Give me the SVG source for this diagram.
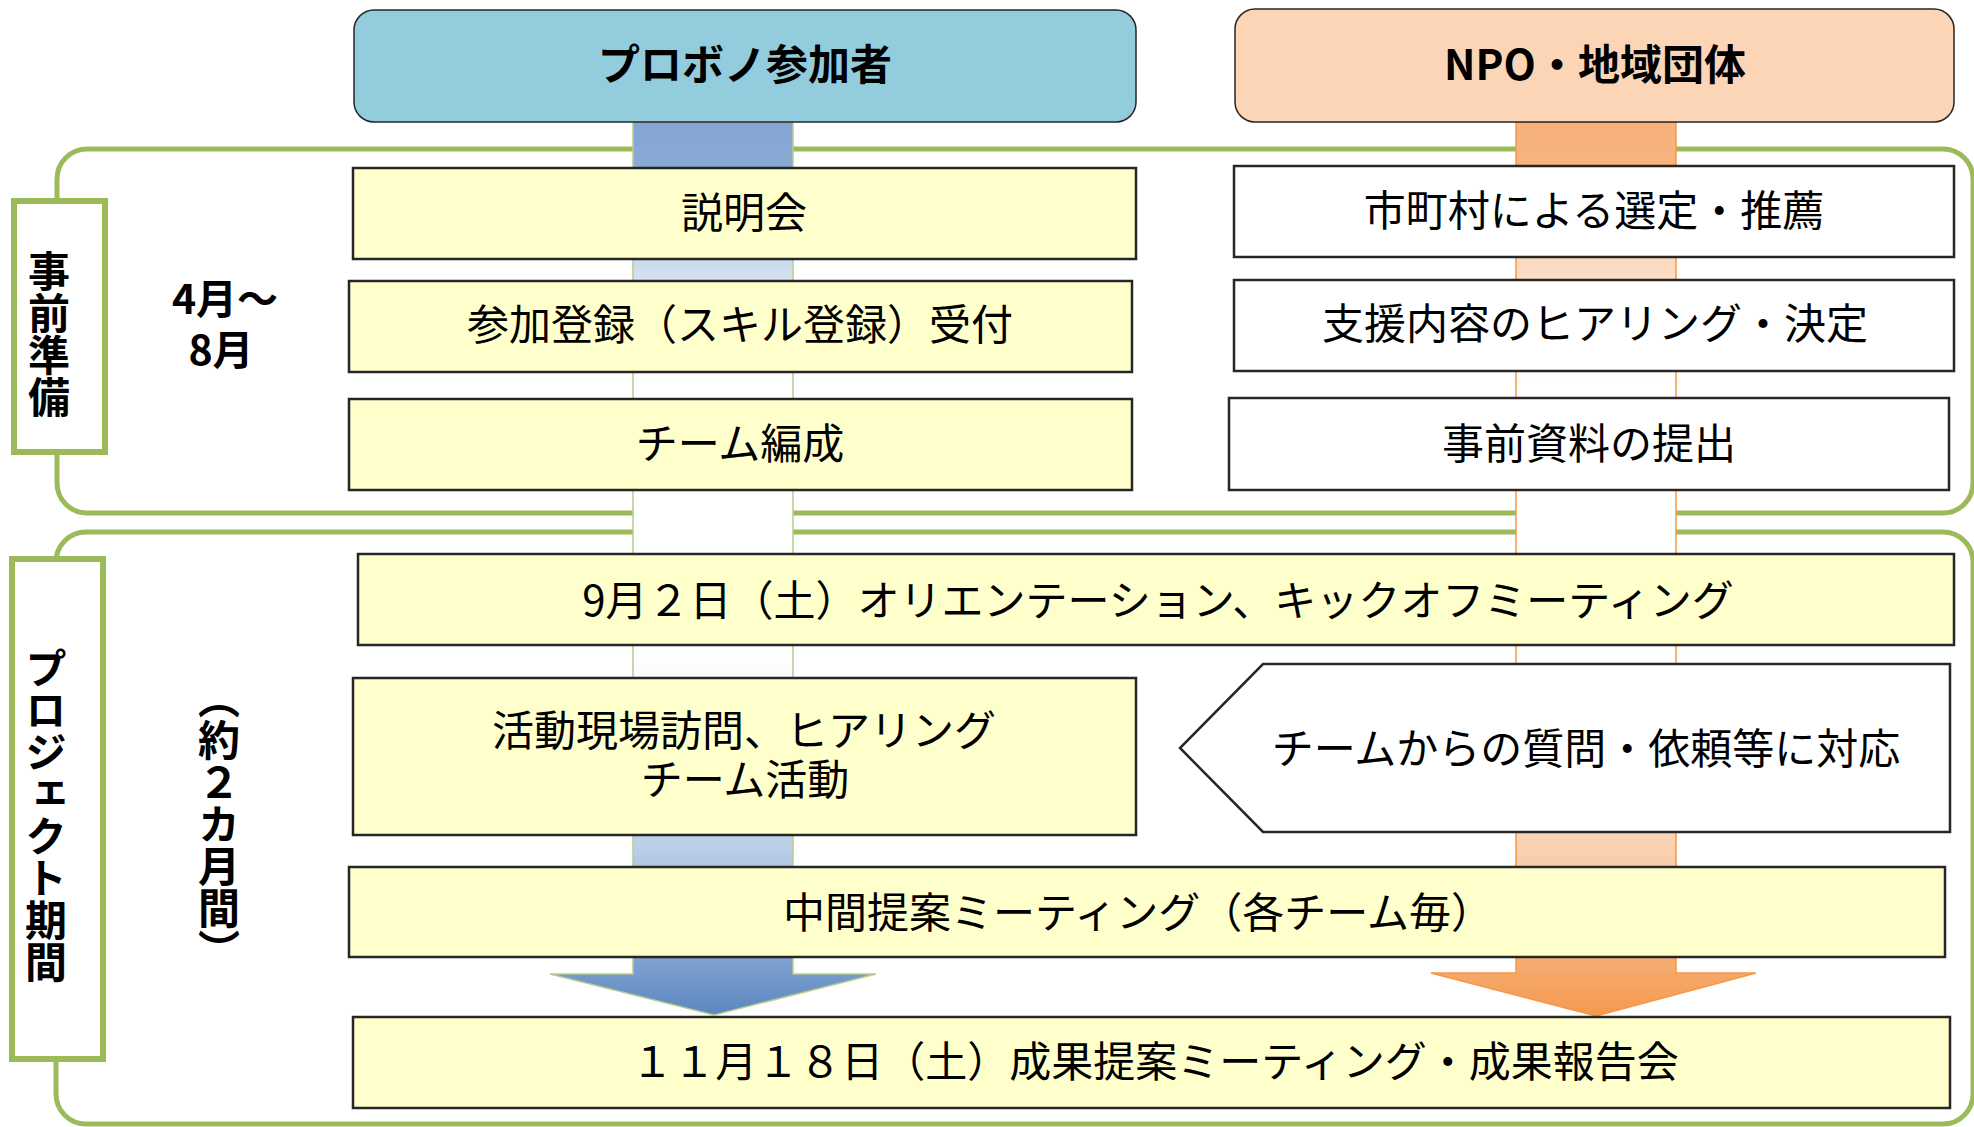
<svg xmlns="http://www.w3.org/2000/svg" width="1974" height="1127" viewBox="0 0 1974 1127">
<defs>
<linearGradient id="gBlue" gradientUnits="userSpaceOnUse" x1="0" y1="122" x2="0" y2="1016">
<stop offset="0" stop-color="#84A5D3"/>
<stop offset="0.05" stop-color="#8AA9D5"/>
<stop offset="0.17" stop-color="#D3E0EF"/>
<stop offset="0.29" stop-color="#FFFFFF"/>
<stop offset="0.60" stop-color="#FFFFFF"/>
<stop offset="0.81" stop-color="#BBCFE7"/>
<stop offset="0.94" stop-color="#7EA1CF"/>
<stop offset="1" stop-color="#5A86C0"/>
</linearGradient>
<linearGradient id="gOrange" gradientUnits="userSpaceOnUse" x1="0" y1="122" x2="0" y2="1016">
<stop offset="0" stop-color="#F7B079"/>
<stop offset="0.05" stop-color="#F8B47E"/>
<stop offset="0.17" stop-color="#FBDDC6"/>
<stop offset="0.29" stop-color="#FFFFFF"/>
<stop offset="0.60" stop-color="#FFFFFF"/>
<stop offset="0.81" stop-color="#FAD2B4"/>
<stop offset="0.94" stop-color="#F6AC70"/>
<stop offset="1" stop-color="#F4994F"/>
</linearGradient>
</defs>
<style>
.cont{fill:#FFFFFF;stroke:#9BBB59;stroke-width:5}
.lab{fill:#FFFFFF;stroke:#9BBB59;stroke-width:6}
.yb{fill:#FFFFCC;stroke:#262626;stroke-width:2.5}
.wb{fill:#FFFFFF;stroke:#262626;stroke-width:2.5}
.t{font-family:"Noto Sans CJK JP","Noto Sans",sans-serif;font-size:42px;fill:#000;text-anchor:middle;dominant-baseline:central}
.b{font-weight:bold}
.v{writing-mode:vertical-rl;font-family:"Noto Sans CJK JP","Noto Sans",sans-serif;font-size:42px;font-weight:bold;fill:#000;text-anchor:middle}
</style>
<rect width="1974" height="1127" fill="#FFFFFF"/>

<g id="phase-prep">
<rect class="cont" x="57" y="149" width="1916" height="364" rx="30"/>
</g>
<g id="phase-project">
<rect class="cont" x="56" y="532" width="1917" height="592" rx="30"/>
</g>

<g id="connectors">
<path d="M633,122 L793,122 L793,974 L876,974 L714,1015 L550,974 L633,974 Z" fill="url(#gBlue)" stroke="#B7CD8C" stroke-width="1.5"/>
<path d="M1516,122 L1676,122 L1676,973 L1756,973 L1596,1016 L1431,973 L1516,973 Z" fill="url(#gOrange)" stroke="#F79646" stroke-width="1.5"/>
</g>

<g id="header-probono">
<rect x="354" y="10" width="782" height="112" rx="20" fill="#93CDDD" stroke="#262626" stroke-width="1.5"/>
<text class="t b" x="745" y="61">プロボノ参加者</text>
</g>
<g id="header-npo">
<rect x="1235" y="9" width="719" height="113" rx="20" fill="#FBD5B5" stroke="#262626" stroke-width="1.5"/>
<text class="t b" x="1595" y="61">NPO・地域団体</text>
</g>

<g id="label-prep">
<rect class="lab" x="14" y="201" width="91" height="251"/>
<text class="v" x="49" y="334">事前準備</text>
</g>
<g id="label-period">
<text class="t b" style="font-size:41px"><tspan x="225" y="296">4月〜</tspan><tspan x="221" y="347">8月</tspan></text>
</g>

<g id="label-project">
<rect class="lab" x="12" y="559" width="91" height="500"/>
<text class="v" x="46" y="815">プロジェクト期間</text>
</g>
<g id="label-duration">
<text class="v" x="219" y="824">（約２カ月間）</text>
</g>

<g id="n-setsumeikai">
<rect class="yb" x="353" y="168" width="783" height="91"/>
<text class="t" x="744" y="209">説明会</text>
</g>
<g id="n-touroku">
<rect class="yb" x="349" y="281" width="783" height="91"/>
<text class="t" x="740" y="321">参加登録（スキル登録）受付</text>
</g>
<g id="n-team">
<rect class="yb" x="349" y="399" width="783" height="91"/>
<text class="t" x="740" y="440">チーム編成</text>
</g>

<g id="n-sentei">
<rect class="wb" x="1234" y="166" width="720" height="91"/>
<text class="t" x="1594" y="207">市町村による選定・推薦</text>
</g>
<g id="n-hearing">
<rect class="wb" x="1234" y="280" width="720" height="91"/>
<text class="t" x="1595" y="320">支援内容のヒアリング・決定</text>
</g>
<g id="n-shiryo">
<rect class="wb" x="1229" y="398" width="720" height="92"/>
<text class="t" x="1589" y="440">事前資料の提出</text>
</g>

<g id="n-orientation">
<rect class="yb" x="358" y="554" width="1596" height="91"/>
<text class="t" x="1158" y="597">9月２日（土）オリエンテーション、キックオフミーティング</text>
</g>
<g id="n-activity">
<rect class="yb" x="353" y="678" width="783" height="157"/>
<text class="t"><tspan x="744" y="727">活動現場訪問、ヒアリング</tspan><tspan x="745" y="776">チーム活動</tspan></text>
</g>
<g id="n-response">
<path class="wb" d="M1263,664 L1950,664 L1950,832 L1263,832 L1180,748 Z"/>
<text class="t" x="1586" y="745">チームからの質問・依頼等に対応</text>
</g>
<g id="n-midterm">
<rect class="yb" x="349" y="867" width="1596" height="90"/>
<text class="t" x="1138" y="909">中間提案ミーティング（各チーム毎）</text>
</g>
<g id="n-final">
<rect class="yb" x="353" y="1017" width="1597" height="91"/>
<text class="t" x="1155" y="1058">１１月１８日（土）成果提案ミーティング・成果報告会</text>
</g>
</svg>
